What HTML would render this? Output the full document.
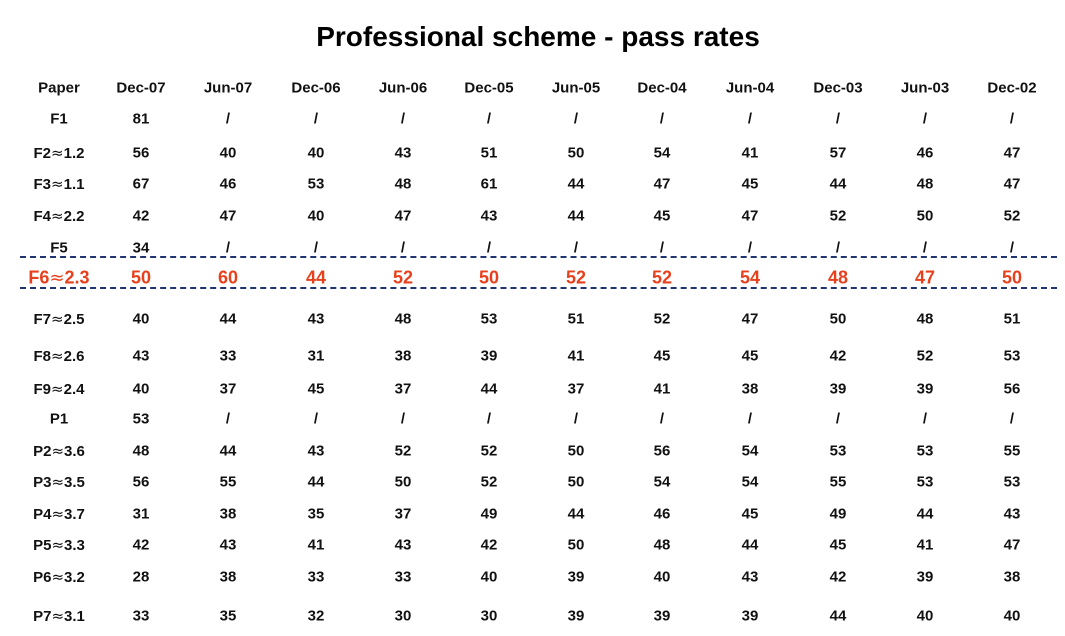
<!DOCTYPE html>
<html><head><meta charset="utf-8"><style>
body{margin:0;width:1065px;height:636px;background:#fff;position:relative;overflow:hidden;font-family:"Liberation Sans","Noto Sans CJK SC",sans-serif;}
.t{position:absolute;transform:translate(-50%,-50%);font-weight:bold;font-size:15px;color:#111;white-space:nowrap;}
.r{color:#e8401c;font-size:18px;}
.approx{font-family:"DejaVu Sans",sans-serif;font-weight:normal;}
#title{position:absolute;left:538px;top:37px;transform:translate(-50%,-50%);font-weight:bold;font-size:28px;color:#000;white-space:nowrap;}
.dl{position:absolute;left:20px;width:1037px;height:0;border-top:2px dashed #1f3470;}
</style></head><body>
<div id="title">Professional scheme - pass rates</div>
<div class="dl" style="top:256px"></div>
<div class="dl" style="top:287px"></div>
<div id="tbl"></div>
<script>
const columns=["Dec-07","Jun-07","Dec-06","Jun-06","Dec-05","Jun-05","Dec-04","Jun-04","Dec-03","Jun-03","Dec-02"];
const papers=["F1","F2≈1.2","F3≈1.1","F4≈2.2","F5","F6≈2.3","F7≈2.5","F8≈2.6","F9≈2.4","P1","P2≈3.6","P3≈3.5","P4≈3.7","P5≈3.3","P6≈3.2","P7≈3.1"];
const rF1=["81","/","/","/","/","/","/","/","/","/","/"];
const rF2=["56","40","40","43","51","50","54","41","57","46","47"];
const rF3=["67","46","53","48","61","44","47","45","44","48","47"];
const rF4=["42","47","40","47","43","44","45","47","52","50","52"];
const rF5=["34","/","/","/","/","/","/","/","/","/","/"];
const rF6=["50","60","44","52","50","52","52","54","48","47","50"];
const rF7=["40","44","43","48","53","51","52","47","50","48","51"];
const rF8=["43","33","31","38","39","41","45","45","42","52","53"];
const rF9=["40","37","45","37","44","37","41","38","39","39","56"];
const rP1=["53","/","/","/","/","/","/","/","/","/","/"];
const rP2=["48","44","43","52","52","50","56","54","53","53","55"];
const rP3=["56","55","44","50","52","50","54","54","55","53","53"];
const rP4=["31","38","35","37","49","44","46","45","49","44","43"];
const rP5=["42","43","41","43","42","50","48","44","45","41","47"];
const rP6=["28","38","33","33","40","39","40","43","42","39","38"];
const rP7=["33","35","32","30","30","39","39","39","44","40","40"];
const rows=[rF1,rF2,rF3,rF4,rF5,rF6,rF7,rF8,rF9,rP1,rP2,rP3,rP4,rP5,rP6,rP7];
const highlight=5;
const colX=[59,141,228,316,403,489,576,662,750,838,925,1012];
const headerY=88;
const rowY=[119,153,184,216,248,278,319,356,389,419,451,482,514,545,577,616];
const tbl=document.getElementById('tbl');
function cell(txt,x,y,red,name){
  const d=document.createElement('div');
  d.className='t'+(red?' r':'');
  d.innerHTML=txt.replace('≈','<span class="approx">≈</span>');
  d.style.left=x+'px';d.style.top=y+'px';
  
  
  tbl.appendChild(d);
}
cell('Paper',colX[0],headerY,false,'header-paper');
columns.forEach((c,i)=>cell(c,colX[i+1],headerY,false,'header-'+c.toLowerCase()));
papers.forEach((p,r)=>{
  const red=r===highlight;
  cell(p,colX[0],rowY[r],red,'paper-label-'+r);
  rows[r].forEach((v,i)=>cell(v,colX[i+1],rowY[r],red,'pass-rate-cell'));
});
</script>
</body></html>
